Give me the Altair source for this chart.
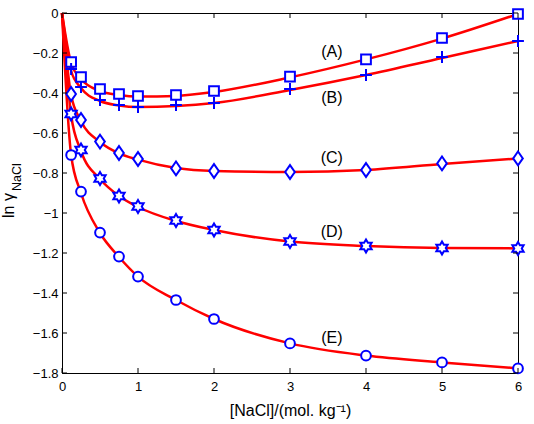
import altair as alt
import pandas as pd

# ---- data ----
x_pts = [0.12, 0.25, 0.5, 0.75, 1.0, 1.5, 2.0, 3.0, 4.0, 5.0, 6.0]
a_pts = [-0.245, -0.32, -0.38, -0.405, -0.415, -0.41, -0.39, -0.318, -0.232, -0.125, -0.005]
b_pts = [-0.28, -0.37, -0.435, -0.46, -0.47, -0.46, -0.45, -0.38, -0.31, -0.22, -0.14]
c_pts = [-0.405, -0.535, -0.643, -0.70, -0.73, -0.777, -0.79, -0.795, -0.785, -0.752, -0.727]
d_pts = [-0.505, -0.685, -0.827, -0.915, -0.968, -1.038, -1.085, -1.143, -1.165, -1.175, -1.178]
e_pts = [-0.71, -0.893, -1.098, -1.218, -1.318, -1.435, -1.53, -1.652, -1.713, -1.747, -1.777]

x_fit = [0.0, 0.12, 0.25, 0.5, 0.75, 1.0, 1.5, 2.0, 3.0, 4.0, 5.0, 6.0]
a_fit = [0.0, -0.25, -0.33, -0.39, -0.41, -0.418, -0.415, -0.395, -0.322, -0.232, -0.128, -0.005]
b_fit = [0.0, -0.29, -0.375, -0.44, -0.462, -0.47, -0.465, -0.45, -0.385, -0.31, -0.225, -0.14]
c_fit = [0.0, -0.41, -0.54, -0.645, -0.702, -0.733, -0.775, -0.79, -0.795, -0.785, -0.755, -0.727]
d_fit = [0.0, -0.51, -0.69, -0.83, -0.915, -0.97, -1.04, -1.085, -1.143, -1.165, -1.175, -1.177]
e_fit = [0.0, -0.71, -0.9, -1.1, -1.22, -1.318, -1.435, -1.53, -1.652, -1.713, -1.747, -1.777]

series_names = ["A", "B", "C", "D", "E"]
label_texts = ["(A)", "(B)", "(C)", "(D)", "(E)"]
label_x = [3.55, 3.55, 3.55, 3.55, 3.55]
label_y = [-0.197, -0.427, -0.723, -1.093, -1.623]

x_ticks = [0, 1, 2, 3, 4, 5, 6]
y_ticks = [-1.8, -1.6, -1.4, -1.2, -1.0, -0.8, -0.6, -0.4, -0.2, 0.0]

FONT = "Liberation Sans"
BLUE = "#0000ff"
RED = "#ff0000"

shape_paths = {
    "A": "square",
    "B": "M-1,0L1,0M0,-1L0,1",
    "C": "M0,-1L0.7,0L0,1L-0.7,0Z",
    "D": ("M0,-1L0.289,-0.5L0.866,-0.5L0.577,0L0.866,0.5L0.289,0.5"
          "L0,1L-0.289,0.5L-0.866,0.5L-0.577,0L-0.866,-0.5L-0.289,-0.5Z"),
    "E": "circle",
}
shape_sizes = {"A": 95, "B": 140, "C": 190, "D": 170, "E": 95}

pts_map = {"A": a_pts, "B": b_pts, "C": c_pts, "D": d_pts, "E": e_pts}
fit_map = {"A": a_fit, "B": b_fit, "C": c_fit, "D": d_fit, "E": e_fit}

fit_rows = []
for s in series_names:
    for xv, yv in zip(x_fit, fit_map[s]):
        fit_rows.append({"series": s, "x": xv, "y": yv})
fit_df = pd.DataFrame(fit_rows)

xscale = alt.Scale(domain=[0, 6], nice=False, zero=False)
yscale = alt.Scale(domain=[-1.8, 0], nice=False, zero=False)

xaxis = alt.Axis(
    values=x_ticks, format="d", grid=False, tickSize=0, labelPadding=7,
    labelFont=FONT, labelFontSize=13, labelColor="black", labelOverlap=False,
    labelFlush=False, domainColor="black", domainWidth=1,
    title="[NaCl]/(mol. kg⁻¹)", titleFont=FONT, titleFontSize=16,
    titleFontWeight="normal", titleColor="black",
    titleY=42, titleBaseline="alphabetic",
)
yaxis = alt.Axis(
    values=y_ticks, format="~g", grid=False, tickSize=0, labelPadding=4,
    labelFont=FONT, labelFontSize=13, labelColor="black", labelOverlap=False,
    labelFlush=False, domainColor="black", domainWidth=1, title="",
)

def X(field):
    return alt.X(field, scale=xscale, axis=xaxis, title="[NaCl]/(mol. kg⁻¹)")

def Y(field):
    return alt.Y(field, scale=yscale, axis=yaxis, title="")

curves = alt.Chart(fit_df).mark_line(
    color=RED, strokeWidth=2.5, interpolate="monotone"
).encode(x=X("x:Q"), y=Y("y:Q"), detail="series:N")

layers = [curves]
for s in series_names:
    df = pd.DataFrame({"x": x_pts, "y": pts_map[s]})
    layers.append(
        alt.Chart(df).mark_point(
            shape=shape_paths[s], size=shape_sizes[s], filled=False,
            stroke=BLUE, strokeWidth=2, fill="white", fillOpacity=1, opacity=1,
        ).encode(x=X("x:Q"), y=Y("y:Q"))
    )

lab_df = pd.DataFrame({"t": label_texts, "x": label_x, "y": label_y})
layers.append(
    alt.Chart(lab_df).mark_text(
        font=FONT, fontSize=16, color="black", align="center", baseline="middle"
    ).encode(x=X("x:Q"), y=Y("y:Q"), text="t:N")
)

# inward ticks on all four sides
xt_df = pd.DataFrame({"x": x_ticks})
yt_df = pd.DataFrame({"y": y_ticks})
tick_style = dict(color="black", strokeWidth=1)
layers.append(alt.Chart(xt_df).mark_rule(**tick_style).encode(
    x=X("x:Q"), y=alt.value(360), y2=alt.value(355)))
layers.append(alt.Chart(xt_df).mark_rule(**tick_style).encode(
    x=X("x:Q"), y=alt.value(0), y2=alt.value(5)))
layers.append(alt.Chart(yt_df).mark_rule(**tick_style).encode(
    y=Y("y:Q"), x=alt.value(0), x2=alt.value(5)))
layers.append(alt.Chart(yt_df).mark_rule(**tick_style).encode(
    y=Y("y:Q"), x=alt.value(456), x2=alt.value(451)))

# y-axis title with subscript
t1 = pd.DataFrame({"t": ["ln γ"]})
t2 = pd.DataFrame({"t": ["NaCl"]})
layers.append(alt.Chart(t1).mark_text(
    font=FONT, fontSize=16, color="black", angle=270, align="left", baseline="alphabetic"
).encode(x=alt.value(-48.5), y=alt.value(205), text="t:N"))
layers.append(alt.Chart(t2).mark_text(
    font=FONT, fontSize=12.5, color="black", angle=270, align="left", baseline="alphabetic"
).encode(x=alt.value(-41.5), y=alt.value(178), text="t:N"))

chart = alt.layer(*layers).properties(
    width=456, height=360,
    autosize=alt.AutoSizeParams(type="none"),
    padding={"left": 62, "top": 13, "right": 16, "bottom": 51},
    background="white",
).configure_view(stroke="black", strokeWidth=1)

chart.save("out.html", embed_options={"renderer": "svg", "actions": False})
